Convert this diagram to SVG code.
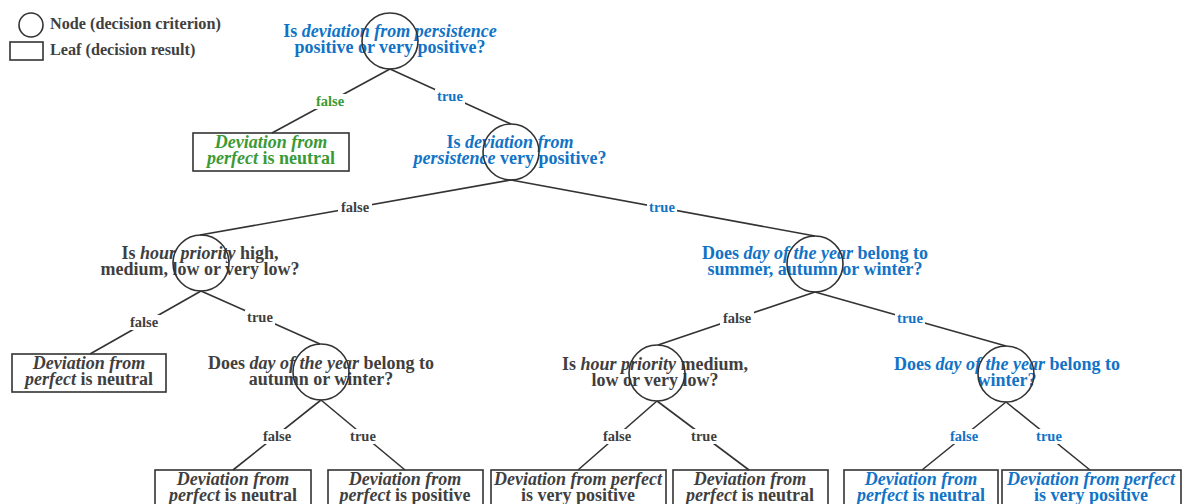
<svg xmlns="http://www.w3.org/2000/svg" width="1185" height="504" viewBox="0 0 1185 504">
<style>
text{font-family:"Liberation Serif","Times New Roman",serif;font-weight:bold;}
.t{font-size:18px;text-anchor:middle;}
.i{font-style:italic;}
.lg{font-size:16.2px;fill:#3f3f3f;}
.el{font-size:14.5px;text-anchor:middle;}
.b{fill:#1173c6;}
.g{fill:#3a9a35;}
.k{fill:#3f3f3f;}
.c{fill:none;stroke:#333;stroke-width:1.6;}
.r{fill:none;stroke:#333;stroke-width:1.6;}
.e line{stroke:#333;stroke-width:1.6;}
.e rect{fill:#fff;}
</style>
<g id="legend">
<circle class="c" cx="31" cy="25" r="12"/>
<text class="lg" x="50" y="29">Node (decision criterion)</text>
<rect class="r" x="10" y="42" width="33" height="18"/>
<text class="lg" x="50" y="55">Leaf (decision result)</text>
</g>
<g id="connectors" class="e">
<line x1="390" y1="69" x2="272" y2="133"/>
<line x1="390" y1="69" x2="511" y2="124"/>
<line x1="511" y1="180" x2="200" y2="235"/>
<line x1="511" y1="180" x2="815" y2="236"/>
<line x1="201" y1="291" x2="90" y2="354"/>
<line x1="201" y1="291" x2="320" y2="344"/>
<line x1="815" y1="292" x2="658" y2="345"/>
<line x1="815" y1="292" x2="1006" y2="346"/>
<line x1="321" y1="400" x2="233" y2="470"/>
<line x1="321" y1="400" x2="405" y2="470"/>
<line x1="657" y1="401" x2="578" y2="470"/>
<line x1="657" y1="401" x2="749" y2="470"/>
<line x1="1006" y1="402" x2="922" y2="470"/>
<line x1="1006" y1="402" x2="1090" y2="470"/>
<rect x="313" y="94" width="34" height="15"/><text class="el g" x="330" y="106">false</text>
<rect x="435" y="89" width="30" height="15"/><text class="el b" x="450" y="101">true</text>
<rect x="338" y="200" width="34" height="15"/><text class="el k" x="355" y="212">false</text>
<rect x="647" y="200" width="30" height="15"/><text class="el b" x="662" y="212">true</text>
<rect x="127" y="315" width="34" height="15"/><text class="el k" x="144" y="327">false</text>
<rect x="245" y="310" width="30" height="15"/><text class="el k" x="260" y="322">true</text>
<rect x="720" y="311" width="34" height="15"/><text class="el k" x="737" y="323">false</text>
<rect x="895" y="311" width="30" height="15"/><text class="el b" x="910" y="323">true</text>
<rect x="260" y="429" width="34" height="15"/><text class="el k" x="277" y="441">false</text>
<rect x="348" y="429" width="30" height="15"/><text class="el k" x="363" y="441">true</text>
<rect x="600" y="429" width="34" height="15"/><text class="el k" x="617" y="441">false</text>
<rect x="689" y="429" width="30" height="15"/><text class="el k" x="704" y="441">true</text>
<rect x="947" y="429" width="34" height="15"/><text class="el b" x="964" y="441">false</text>
<rect x="1034" y="429" width="30" height="15"/><text class="el b" x="1049" y="441">true</text>
</g>
<g id="n1">
<text class="t b" x="390" y="37">Is <tspan class="i">deviation from persistence</tspan></text>
<text class="t b" x="390" y="53">positive or very positive?</text>
<circle class="c" cx="390" cy="41" r="28"/>
</g>
<g id="n2">
<text class="t b" x="510" y="148">Is <tspan class="i">deviation from</tspan></text>
<text class="t b" x="510" y="164"><tspan class="i">persistence</tspan> very positive?</text>
<circle class="c" cx="511" cy="152" r="28"/>
</g>
<g id="n3">
<text class="t k" x="200" y="259">Is <tspan class="i">hour priority</tspan> high,</text>
<text class="t k" x="200" y="275">medium, low or very low?</text>
<circle class="c" cx="201" cy="263" r="28"/>
</g>
<g id="n4">
<text class="t b" x="815" y="259">Does <tspan class="i">day of the year</tspan> belong to</text>
<text class="t b" x="815" y="275">summer, autumn or winter?</text>
<circle class="c" cx="815" cy="264" r="28"/>
</g>
<g id="n5">
<text class="t k" x="321" y="369">Does <tspan class="i">day of the year</tspan> belong to</text>
<text class="t k" x="321" y="385">autumn or winter?</text>
<circle class="c" cx="321" cy="372" r="28"/>
</g>
<g id="n6">
<text class="t k" x="655" y="370">Is <tspan class="i">hour priority</tspan> medium,</text>
<text class="t k" x="655" y="386">low or very low?</text>
<circle class="c" cx="657" cy="373" r="28"/>
</g>
<g id="n7">
<text class="t b" x="1007" y="370">Does <tspan class="i">day of the year</tspan> belong to</text>
<text class="t b" x="1007" y="386">winter?</text>
<circle class="c" cx="1006" cy="374" r="28"/>
</g>
<g id="l1">
<rect class="r" x="193" y="133" width="156" height="38"/>
<text class="t g" x="271" y="148"><tspan class="i">Deviation from</tspan></text>
<text class="t g" x="271" y="164"><tspan class="i">perfect</tspan> is neutral</text>
</g>
<g id="l2">
<rect class="r" x="12" y="354" width="154" height="38"/>
<text class="t k" x="89" y="369"><tspan class="i">Deviation from</tspan></text>
<text class="t k" x="89" y="385"><tspan class="i">perfect</tspan> is neutral</text>
</g>
<g id="l3">
<rect class="r" x="155" y="470" width="156" height="38"/>
<text class="t k" x="233" y="485"><tspan class="i">Deviation from</tspan></text>
<text class="t k" x="233" y="501"><tspan class="i">perfect</tspan> is neutral</text>
</g>
<g id="l4">
<rect class="r" x="328" y="470" width="155" height="38"/>
<text class="t k" x="405" y="485"><tspan class="i">Deviation from</tspan></text>
<text class="t k" x="405" y="501"><tspan class="i">perfect</tspan> is positive</text>
</g>
<g id="l5">
<rect class="r" x="491" y="470" width="175" height="38"/>
<text class="t k" x="578" y="485"><tspan class="i">Deviation from perfect</tspan></text>
<text class="t k" x="578" y="501">is very positive</text>
</g>
<g id="l6">
<rect class="r" x="673" y="470" width="155" height="38"/>
<text class="t k" x="750" y="485"><tspan class="i">Deviation from</tspan></text>
<text class="t k" x="750" y="501"><tspan class="i">perfect</tspan> is neutral</text>
</g>
<g id="l7">
<rect class="r" x="844" y="470" width="154" height="38"/>
<text class="t b" x="921" y="485"><tspan class="i">Deviation from</tspan></text>
<text class="t b" x="921" y="501"><tspan class="i">perfect</tspan> is neutral</text>
</g>
<g id="l8">
<rect class="r" x="1002" y="470" width="179" height="38"/>
<text class="t b" x="1091" y="485"><tspan class="i">Deviation from perfect</tspan></text>
<text class="t b" x="1091" y="501">is very positive</text>
</g>
</svg>
